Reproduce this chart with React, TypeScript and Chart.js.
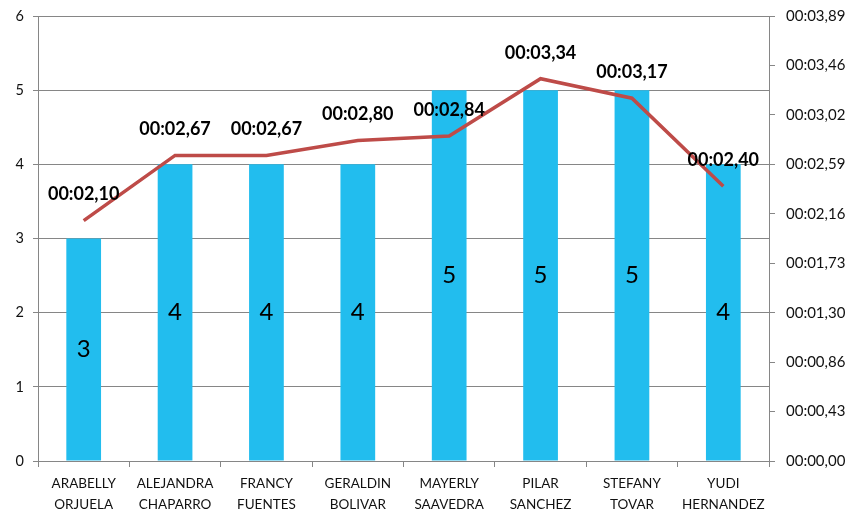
import React, { useEffect, useRef } from "react";
import { Chart, registerables } from "chart.js";

Chart.register(...registerables);

const categories: string[][] = [
  ["ARABELLY", "ORJUELA"],
  ["ALEJANDRA", "CHAPARRO"],
  ["FRANCY", "FUENTES"],
  ["GERALDIN", "BOLIVAR"],
  ["MAYERLY", "SAAVEDRA"],
  ["PILAR", "SANCHEZ"],
  ["STEFANY", "TOVAR"],
  ["YUDI", "HERNANDEZ"],
];
const barValues = [3, 4, 4, 4, 5, 5, 5, 4];
const timeSeconds = [2.1, 2.67, 2.67, 2.8, 2.84, 3.34, 3.17, 2.4];
const leftTicks = [0, 1, 2, 3, 4, 5, 6];
const rightAxisMax = 3.888;
const rightTickCount = 9;

const fmtTime = (v: number) => {
  const mins = Math.floor(v / 60);
  const secs = v - mins * 60;
  const s = secs.toFixed(2).replace(".", ",");
  const pad = secs < 10 ? "0" + s : s;
  return String(mins).padStart(2, "0") + ":" + pad;
};

const FONT = "Lato, 'Open Sans', sans-serif";

const labelPlugin = {
  id: "valueLabels",
  afterDatasetsDraw(chart: any) {
    const ctx = chart.ctx;
    ctx.save();
    const barMeta = chart.getDatasetMeta(0);
    ctx.fillStyle = "#000";
    ctx.textAlign = "center";
    ctx.textBaseline = "middle";
    ctx.font = `24px ${FONT}`;
    barMeta.data.forEach((el: any, i: number) => {
      const cy = (el.y + el.base) / 2;
      ctx.fillText(String(barValues[i]), el.x, cy);
    });
    const lineMeta = chart.getDatasetMeta(1);
    ctx.font = `bold 18px ${FONT}`;
    lineMeta.data.forEach((el: any, i: number) => {
      ctx.fillText(fmtTime(timeSeconds[i]), el.x, el.y - 26);
    });
    ctx.restore();
  },
};

export default function App() {
  const ref = useRef<HTMLCanvasElement | null>(null);
  useEffect(() => {
    if (!ref.current) return;
    const chart = new Chart(ref.current, {
      type: "bar",
      data: {
        labels: categories,
        datasets: [
          {
            type: "bar",
            data: barValues,
            backgroundColor: "#22BDEE",
            barPercentage: 0.38,
            categoryPercentage: 1,
            yAxisID: "y",
            order: 2,
          },
          {
            type: "line",
            data: timeSeconds,
            borderColor: "#BE4B48",
            borderWidth: 3.5,
            pointRadius: 0,
            tension: 0,
            yAxisID: "y2",
            order: 1,
          } as any,
        ],
      },
      options: {
        responsive: false,
        animation: false,
        layout: { padding: { top: 16, left: 0, right: 0, bottom: 0 } },
        plugins: { legend: { display: false }, tooltip: { enabled: false } },
        scales: {
          x: {
            offset: true,
            grid: {
              offset: true,
              drawOnChartArea: false,
              drawTicks: true,
              tickLength: 6,
              color: "#868686",
            },
            border: { color: "#868686", width: 1 },
            ticks: {
              color: "#111",
              font: { family: FONT, size: 13.5, lineHeight: 1.55 },
              padding: 6,
              maxRotation: 0,
              autoSkip: false,
            },
            afterFit: (s: any) => {
              s.height = 51;
              s.paddingLeft = 0;
              s.paddingRight = 0;
            },
          },
          y: {
            position: "left",
            min: 0,
            max: 6,
            afterBuildTicks: (s: any) => {
              s.ticks = leftTicks.map((v) => ({ value: v }));
            },
            grid: {
              color: "#868686",
              tickLength: 5,
              drawTicks: true,
            },
            border: { color: "#868686" },
            ticks: {
              color: "#111",
              font: { family: FONT, size: 14.5 },
              padding: 9,
            },
            afterFit: (s: any) => {
              s.width = 38;
              s.paddingTop = 0;
              s.paddingBottom = 0;
            },
          },
          y2: {
            position: "right",
            min: 0,
            max: rightAxisMax,
            afterBuildTicks: (s: any) => {
              const t = [];
              for (let i = 0; i <= rightTickCount; i++) t.push({ value: (rightAxisMax * i) / rightTickCount });
              s.ticks = t;
            },
            grid: {
              drawOnChartArea: false,
              tickLength: 6,
              color: "#868686",
            },
            border: { color: "#868686" },
            ticks: {
              color: "#111",
              font: { family: FONT, size: 15 },
              padding: 11,
              callback: (v: any) => fmtTime(Number(v)),
            },
            afterFit: (s: any) => {
              s.width = 84;
              s.paddingTop = 0;
              s.paddingBottom = 0;
            },
          },
        },
      },
      plugins: [labelPlugin],
    });
    return () => chart.destroy();
  }, []);
  return (
    <div style={{ position: "fixed", left: 0, top: 0, width: 853, height: 512, background: "#fff" }}>
      <canvas ref={ref} width={853} height={512} />
    </div>
  );
}
